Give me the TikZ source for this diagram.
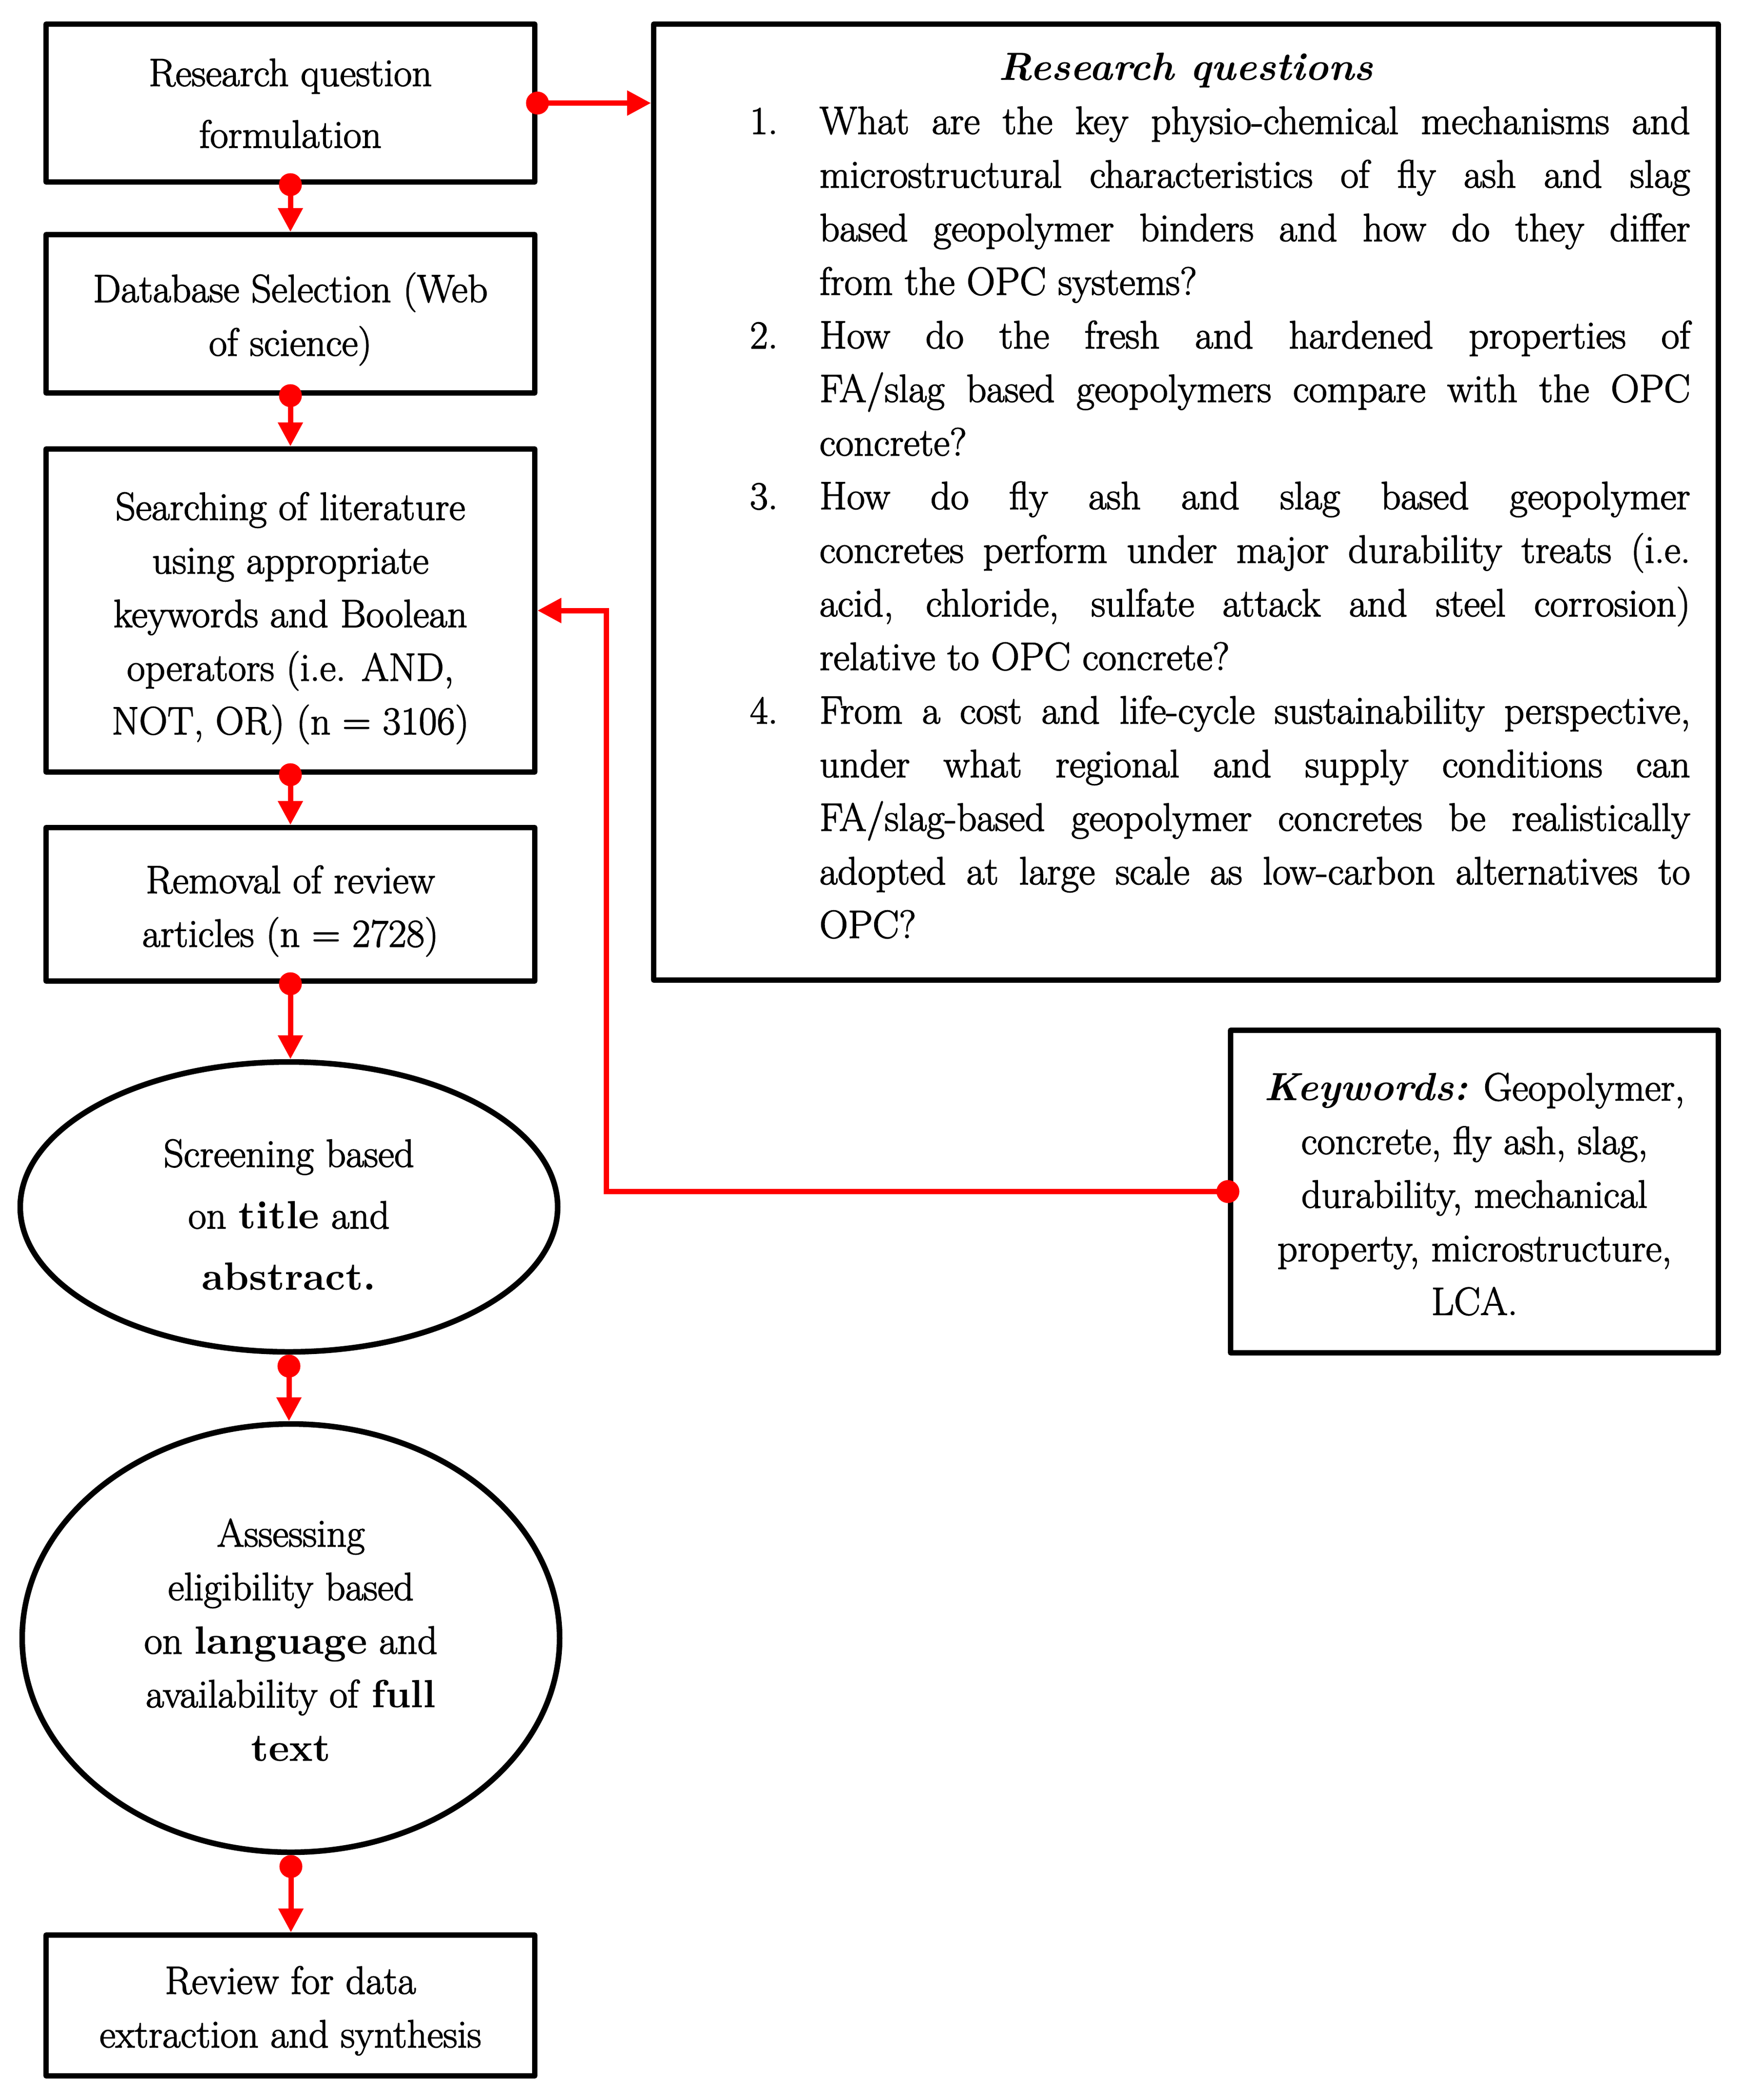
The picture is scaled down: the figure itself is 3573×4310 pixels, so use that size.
\documentclass[tikz,border=0pt]{standalone}
\usepackage{fontspec}
\setmainfont{lmroman17-regular.otf}[BoldFont=lmroman10-bold.otf, ItalicFont=lmroman10-italic.otf, BoldItalicFont=lmroman10-bolditalic.otf, UprightFeatures={FakeBold=2}]
\usetikzlibrary{arrows.meta,shapes.geometric}
\newcommand{\fsA}{\fontsize{23pt}{31.3pt}\selectfont}
\newcommand{\fsB}{\fontsize{23pt}{36pt}\selectfont}
\newcommand{\ntext}[2]{\raisebox{-#1}[\height][\depth]{\begin{tabular}{@{}c@{}}#2\end{tabular}}}
\newcommand{\rqnum}[2]{\noindent\hspace*{14mm}\makebox[14.3mm][l]{#1}\makebox[178.7mm][s]{#2}\par}
\newcommand{\rqline}[1]{\noindent\hspace*{28.3mm}\makebox[178.7mm][s]{#1}\par}
\newcommand{\rqlast}[1]{\noindent\hspace*{28.3mm}#1\par}
\begin{document}
\begin{tikzpicture}[x=0.1mm,y=-0.1mm,
  box/.style={draw, rectangle, line width=1.1mm, line join=round, minimum width=100.3mm, inner sep=0pt, font=\fsA},
  ell/.style={draw, ellipse, line width=1.15mm, minimum width=110.3mm, inner sep=0pt, font=\fsA},
  conn/.style={draw=red, line width=1.1mm, {Circle[length=4.7mm,width=4.7mm]}-{Triangle[length=4.9mm,width=4.9mm]}, shorten <=-2.35mm},
  connE/.style={draw=red, line width=1.1mm, {Circle[length=4.7mm,width=4.7mm]}-{Triangle[length=4.9mm,width=4.9mm]}}
]
\fill[white] (0,0) rectangle (3573,4310);
\useasboundingbox (0,0) rectangle (3573,4310);

\node[box, minimum height=32.4mm, font=\fsB] (b1) at (596,211.5) {\ntext{0.3mm}{Research question\\formulation}};
\node[box, minimum height=32.5mm] (b2) at (596,644) {\ntext{0.9mm}{Database Selection (Web\\of science)}};
\node[box, minimum height=66.3mm] (b3) at (596,1253) {\ntext{1.2mm}{Searching of literature\\using appropriate\\keywords and Boolean\\operators (i.e. AND,\\NOT, OR) (n = 3106)}};
\node[box, minimum height=31.5mm] (b4) at (596,1856) {\ntext{1.0mm}{Removal of review\\articles (n = 2728)}};
\node[ell, minimum height=59.5mm, font=\fsB] (e1) at (593,2477) {\ntext{1.9mm}{Screening based\\on \textbf{title} and\\\textbf{abstract.}}};
\node[ell, minimum height=87.9mm] (e2) at (597,3362) {\ntext{1.0mm}{Assessing\\eligibility based\\on \textbf{language} and\\availability of \textbf{full}\\\textbf{text}}};
\node[box, minimum height=28.9mm] (b7) at (596,4116) {\ntext{0.9mm}{Review for data\\extraction and synthesis}};

\node[draw, rectangle, line width=1.1mm, line join=round, minimum width=218.5mm, minimum height=196.2mm, inner sep=0pt] (rq) at (2434,1030.5) {%
\begin{minipage}{207mm}\fsA\parindent=0pt
\vspace*{-2.6mm}
\makebox[\linewidth]{\bfseries\itshape Research questions}\par
\rqnum{1.}{What are the key physio-chemical mechanisms and}
\rqline{microstructural characteristics of fly ash and slag}
\rqline{based geopolymer binders and how do they differ}
\rqlast{from the OPC systems?}
\rqnum{2.}{How do the fresh and hardened properties of}
\rqline{FA/slag based geopolymers compare with the OPC}
\rqlast{concrete?}
\rqnum{3.}{How do fly ash and slag based geopolymer}
\rqline{concretes perform under major durability treats (i.e.}
\rqline{acid, chloride, sulfate attack and steel corrosion)}
\rqlast{relative to OPC concrete?}
\rqnum{4.}{From a cost and life-cycle sustainability perspective,}
\rqline{under what regional and supply conditions can}
\rqline{FA/slag-based geopolymer concretes be realistically}
\rqline{adopted at large scale as low-carbon alternatives to}
\rqlast{OPC?}
\end{minipage}};

\node[box, minimum width=100.1mm, minimum height=66.2mm] (kw) at (3026,2445.5) {\ntext{1.1mm}{{\bfseries\itshape Keywords:} Geopolymer,\\concrete, fly ash, slag,\\durability, mechanical\\property, microstructure,\\LCA.}};

\coordinate (kx) at (1244,0);

\draw[conn] (b1.east) -- (b1.east -| rq.west);
\draw[conn] (b1.south) -- (b2.north);
\draw[conn] (b2.south) -- (b3.north);
\draw[conn] (b3.south) -- (b4.north);
\draw[conn] (b4.south) -- (b4.south |- e1.north);
\draw[connE] (e1.south) -- (e1.south |- e2.north);
\draw[connE] (e2.south) -- (e2.south |- b7.north);
\draw[conn] (kw.west) -| (kx |- b3.east) -- (b3.east);
\end{tikzpicture}
\end{document}
